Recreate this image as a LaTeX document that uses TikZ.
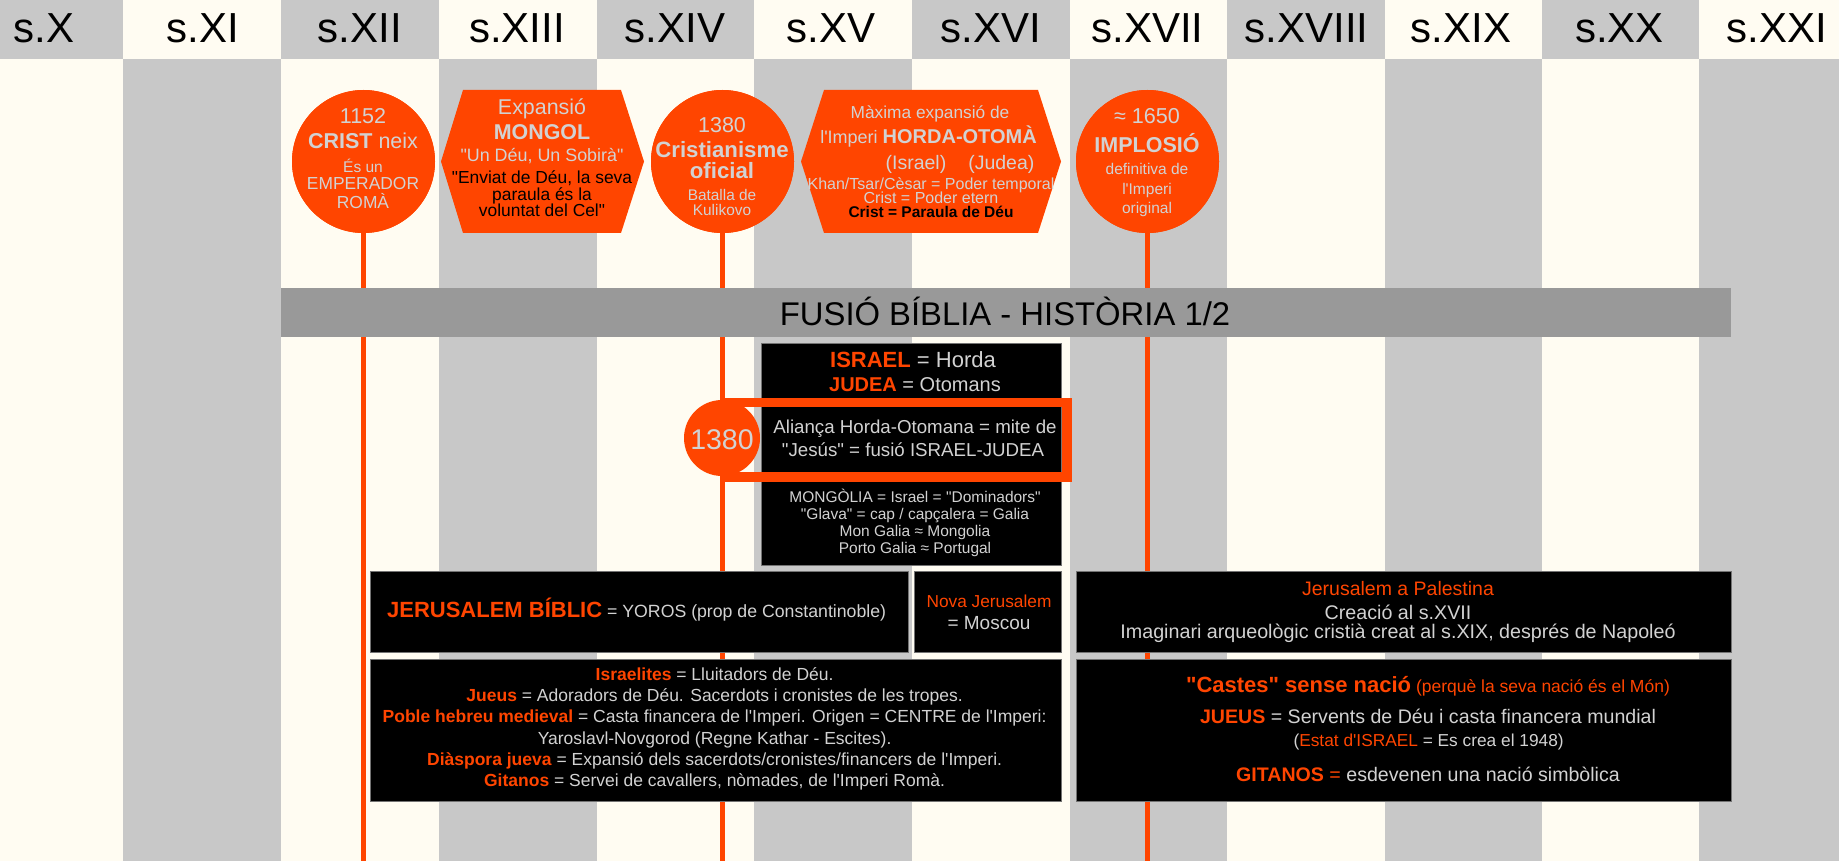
\documentclass[tikz,border=0pt]{standalone}
\usepackage{fontspec}
\setmainfont[Ligatures=TeXOff]{Liberation Sans}
\definecolor{colgrey}{HTML}{C8C8C8}
\definecolor{colcream}{HTML}{FFFCF2}
\definecolor{banner}{HTML}{999999}
\definecolor{redor}{HTML}{FF4500}
\definecolor{pale}{HTML}{D2D2D2}
\newcommand\fz[1]{\fontsize{#1}{#1}\selectfont}
\newcommand\ro[1]{\textcolor{redor}{#1}}
\tikzset{
  tl/.style={anchor=base,inner sep=0pt,outer sep=0pt,text=pale},
  tk/.style={anchor=base,inner sep=0pt,outer sep=0pt,text=black},
  disc/.style={circle,fill=redor,inner sep=0pt,outer sep=0pt,minimum size=#1},
  hexa/.style={fill=redor},
  spine/.style={draw=redor,line width=5.6pt},
  blackbox/.style={rectangle,fill=black,draw=black!55,line width=.8pt,inner sep=0pt,outer sep=0pt},
  colrect/.style={inner sep=0pt,outer sep=0pt,rectangle}
}
\begin{document}
\begin{tikzpicture}[x=1pt,y=-1pt]
\useasboundingbox (0,0) rectangle (1839,861);
% columns
\foreach \xa/\xb/\top/\body in {0/123/colgrey/colcream,123/281/colcream/colgrey,281/439/colgrey/colcream,439/596.5/colcream/colgrey,596.5/754/colgrey/colcream,754/912/colcream/colgrey,912/1069.5/colgrey/colcream,1069.5/1227/colcream/colgrey,1227/1384.5/colgrey/colcream,1384.5/1541.5/colcream/colgrey,1541.5/1699/colgrey/colcream,1699/1839/colcream/colgrey}{
  \fill[\top] (\xa,0) rectangle (\xb,59);
  \fill[\body] (\xa,59) rectangle (\xb,861);
}
% headers
\foreach \cx/\lab/\nm in {43.8/s.X/hx,202.5/s.XI/hxi,360/s.XII/hxii,517/s.XIII/hxiii,675/s.XIV/hxiv,831/s.XV/hxv,990.5/s.XVI/hxvi,1147.6/s.XVII/hxvii,1306.5/s.XVIII/hxviii,1461/s.XIX/hxix,1619.5/s.XX/hxx,1777/s.XXI/hxxi}{
  \node[tk,font={\fz{42}}] (\nm) at (\cx,43) {\lab};
}
% circles and spines
\node[disc=143pt] (c1) at (363.5,161.5) {};
\node[disc=143pt] (c2) at (722.5,161.5) {};
\node[disc=143pt] (c3) at (1147.5,161.5) {};
\coordinate (e1) at (363.5,861);
\coordinate (e2) at (722.5,861);
\coordinate (e3) at (1147.5,861);
\draw[spine] (c1) -- (e1);
\draw[spine] (c2) -- (e2);
\draw[spine] (c3) -- (e3);
\node[disc=143pt] at (c1) {};
\node[disc=143pt] at (c2) {};
\node[disc=143pt] at (c3) {};
% hexagons
\fill[hexa] (441,161.5) -- (463,90) -- (621,90) -- (644,161.5) -- (621,233) -- (463,233) -- cycle;
\fill[hexa] (801,161.5) -- (824,90) -- (1038,90) -- (1061,161.5) -- (1038,233) -- (824,233) -- cycle;
% banner
\node[colrect,fill=banner,minimum width=1450pt,minimum height=49pt] (ban) at (1006,312.5) {};
\node[tk,font={\fz{32.8}}] (bant) at (1005,325) {FUSIÓ BÍBLIA - HISTÒRIA 1/2};
% black boxes
\node[blackbox,minimum width=300pt,minimum height=222pt] (bk) at (911.7,454) {};
\node[blackbox,minimum width=538pt,minimum height=80.5pt] (ba) at (639,612) {};
\node[blackbox,minimum width=147.6pt,minimum height=80.5pt] (bb) at (987.8,612) {};
\node[blackbox,minimum width=691.6pt,minimum height=142pt] (bc) at (715.8,730) {};
\node[blackbox,minimum width=655pt,minimum height=80.5pt] (bd) at (1403.5,612) {};
\node[blackbox,minimum width=655pt,minimum height=142pt] (be) at (1403.5,730) {};
% 1380 frame and disc
\node[draw=redor,line width=9.4pt,rectangle,minimum width=339.5pt,minimum height=74.8pt,inner sep=0pt,outer sep=0pt] (fr) at (897.25,439.7) {};
\node[disc=76pt] (c4) at (722,438) {};
\node[tl,font={\fz{28.5}}] (c4t) at (722,449) {1380};
% circle 1
\node[tl,font={\fz{21.5}}] (a1) at (363,124) {1152};
\node[tl,font={\fz{21.5}}] (a2) at (363,149) {\textbf{CRIST} neix};
\node[tl,font={\fz{15.5}}] (a3) at (363,173) {És un};
\node[tl,font={\fz{17.4}}] (a4) at (363,190) {EMPERADOR};
\node[tl,font={\fz{17.4}}] (a5) at (363,209) {ROMÀ};
% hexagon 1
\node[tl,font={\fz{21.4}}] (b1) at (542,115) {Expansió};
\node[tl,font={\fz{21.4}\bfseries}] (b2) at (542,140) {MONGOL};
\node[tl,font={\fz{17.9}}] (b3) at (542,162) {"Un Déu, Un Sobirà"};
\node[tk,font={\fz{17.4}}] (b4) at (542,184) {"Enviat de Déu, la seva};
\node[tk,font={\fz{17.4}}] (b5) at (542,201) {paraula és la};
\node[tk,font={\fz{17.4}}] (b6) at (542,217) {voluntat del Cel"};
% circle 2
\node[tl,font={\fz{21.5}}] (d1) at (722,133) {1380};
\node[tl,font={\fz{22.2}\bfseries}] (d2) at (722,158) {Cristianisme};
\node[tl,font={\fz{22.2}\bfseries}] (d3) at (722,179) {oficial};
\node[tl,font={\fz{15.4}}] (d4) at (722,201) {Batalla de};
\node[tl,font={\fz{15.4}}] (d5) at (722,215) {Kulikovo};
% hexagon 2
\node[tl,font={\fz{17.3}}] (f1) at (930,119) {Màxima expansió de};
\node[tl,font={\fz{18}}] (f2) at (928.5,144) {l'Imperi \textbf{\fz{20}HORDA-OTOMÀ}};
\node[tl,font={\fz{19.5}}] (f3) at (960,170) {(Israel)\hspace{22pt}(Judea)};
\node[tl,font={\fz{16}}] (f4) at (931,190) {Khan/Tsar/Cèsar = Poder temporal};
\node[tl,font={\fz{16}}] (f5) at (931,204) {Crist = Poder etern};
\node[tk,font={\fz{15.5}\bfseries}] (f6) at (931,218) {Crist = Paraula de Déu};
% circle 3
\node[tl,font={\fz{21.6}}] (g1) at (1147,124) {≈ 1650};
\node[tl,font={\fz{21.5}\bfseries}] (g2) at (1147,153) {IMPLOSIÓ};
\node[tl,font={\fz{15.5}}] (g3) at (1147,175) {definitiva de};
\node[tl,font={\fz{15.5}}] (g4) at (1147,195) {l'Imperi};
\node[tl,font={\fz{15.5}}] (g5) at (1147,214) {original};
% top black box
\node[tl,font={\fz{22}}] (k1) at (913,367) {\ro{\textbf{ISRAEL}} = Horda};
\node[tl,font={\fz{20}}] (k2) at (915,391) {\ro{\textbf{JUDEA}} = Otomans};
\node[tl,font={\fz{18.7}}] (k3) at (915,433) {Aliança Horda-Otomana = mite de};
\node[tl,font={\fz{18.7}}] (k4) at (913,456) {"Jesús" = fusió ISRAEL-JUDEA};
\node[tl,font={\fz{15.5}}] (k5) at (915,502) {MONGÒLIA = Israel = "Dominadors"};
\node[tl,font={\fz{15.5}}] (k6) at (915,519) {"Glava" = cap / capçalera = Galia};
\node[tl,font={\fz{15.5}}] (k7) at (915,536) {Mon Galia ≈ Mongolia};
\node[tl,font={\fz{15.5}}] (k8) at (915,553) {Porto Galia ≈ Portugal};
% box A, B
\node[tl,font={\fz{17.7}}] (m1) at (636.6,617) {\ro{\textbf{\fz{22}JERUSALEM BÍBLIC}} = YOROS (prop de Constantinoble)};
\node[tl,font={\fz{17.3}},text=redor] (n1) at (989,607) {Nova Jerusalem};
\node[tl,font={\fz{19}}] (n2) at (989,629) {= Moscou};
% box C
\node[tl,font={\fz{17.5}}] (p1) at (714.6,680) {\ro{\textbf{Israelites}} = Lluitadors de Déu.};
\node[tl,font={\fz{17.5}}] (p2) at (714.6,701) {\ro{\textbf{Jueus}} = Adoradors de Déu. Sacerdots i cronistes de les tropes.};
\node[tl,font={\fz{17.5}}] (p3) at (714.6,722) {\ro{\textbf{Poble hebreu medieval}} = Casta financera de l'Imperi. Origen = CENTRE de l'Imperi:};
\node[tl,font={\fz{17.5}}] (p4) at (714.6,744) {Yaroslavl-Novgorod (Regne Kathar - Escites).};
\node[tl,font={\fz{17.5}}] (p5) at (714.6,765) {\ro{\textbf{Diàspora jueva}} = Expansió dels sacerdots/cronistes/financers de l'Imperi.};
\node[tl,font={\fz{17.5}}] (p6) at (714.6,786) {\ro{\textbf{Gitanos}} = Servei de cavallers, nòmades, de l'Imperi Romà.};
% box D
\node[tl,font={\fz{19.5}},text=redor] (q1) at (1398,595) {Jerusalem a Palestina};
\node[tl,font={\fz{19.7}}] (q2) at (1398,619) {Creació al s.XVII};
\node[tl,font={\fz{19.7}}] (q3) at (1398,638) {Imaginari arqueològic cristià creat al s.XIX, després de Napoleó};
% box E
\node[tl,font={\fz{17.5}},text=redor] (r1) at (1428,692) {\textbf{\fz{22}"Castes" sense nació} (perquè la seva nació és el Món)};
\node[tl,font={\fz{19.6}}] (r2) at (1428,723) {\ro{\textbf{JUEUS}} = Servents de Déu i casta financera mundial};
\node[tl,font={\fz{17.3}}] (r3) at (1428.6,746) {(\ro{Estat d'ISRAEL} = Es crea el 1948)};
\node[tl,font={\fz{19.6}}] (r4) at (1428,781) {\ro{\textbf{GITANOS} =} esdevenen una nació simbòlica};
\end{tikzpicture}
\end{document}
